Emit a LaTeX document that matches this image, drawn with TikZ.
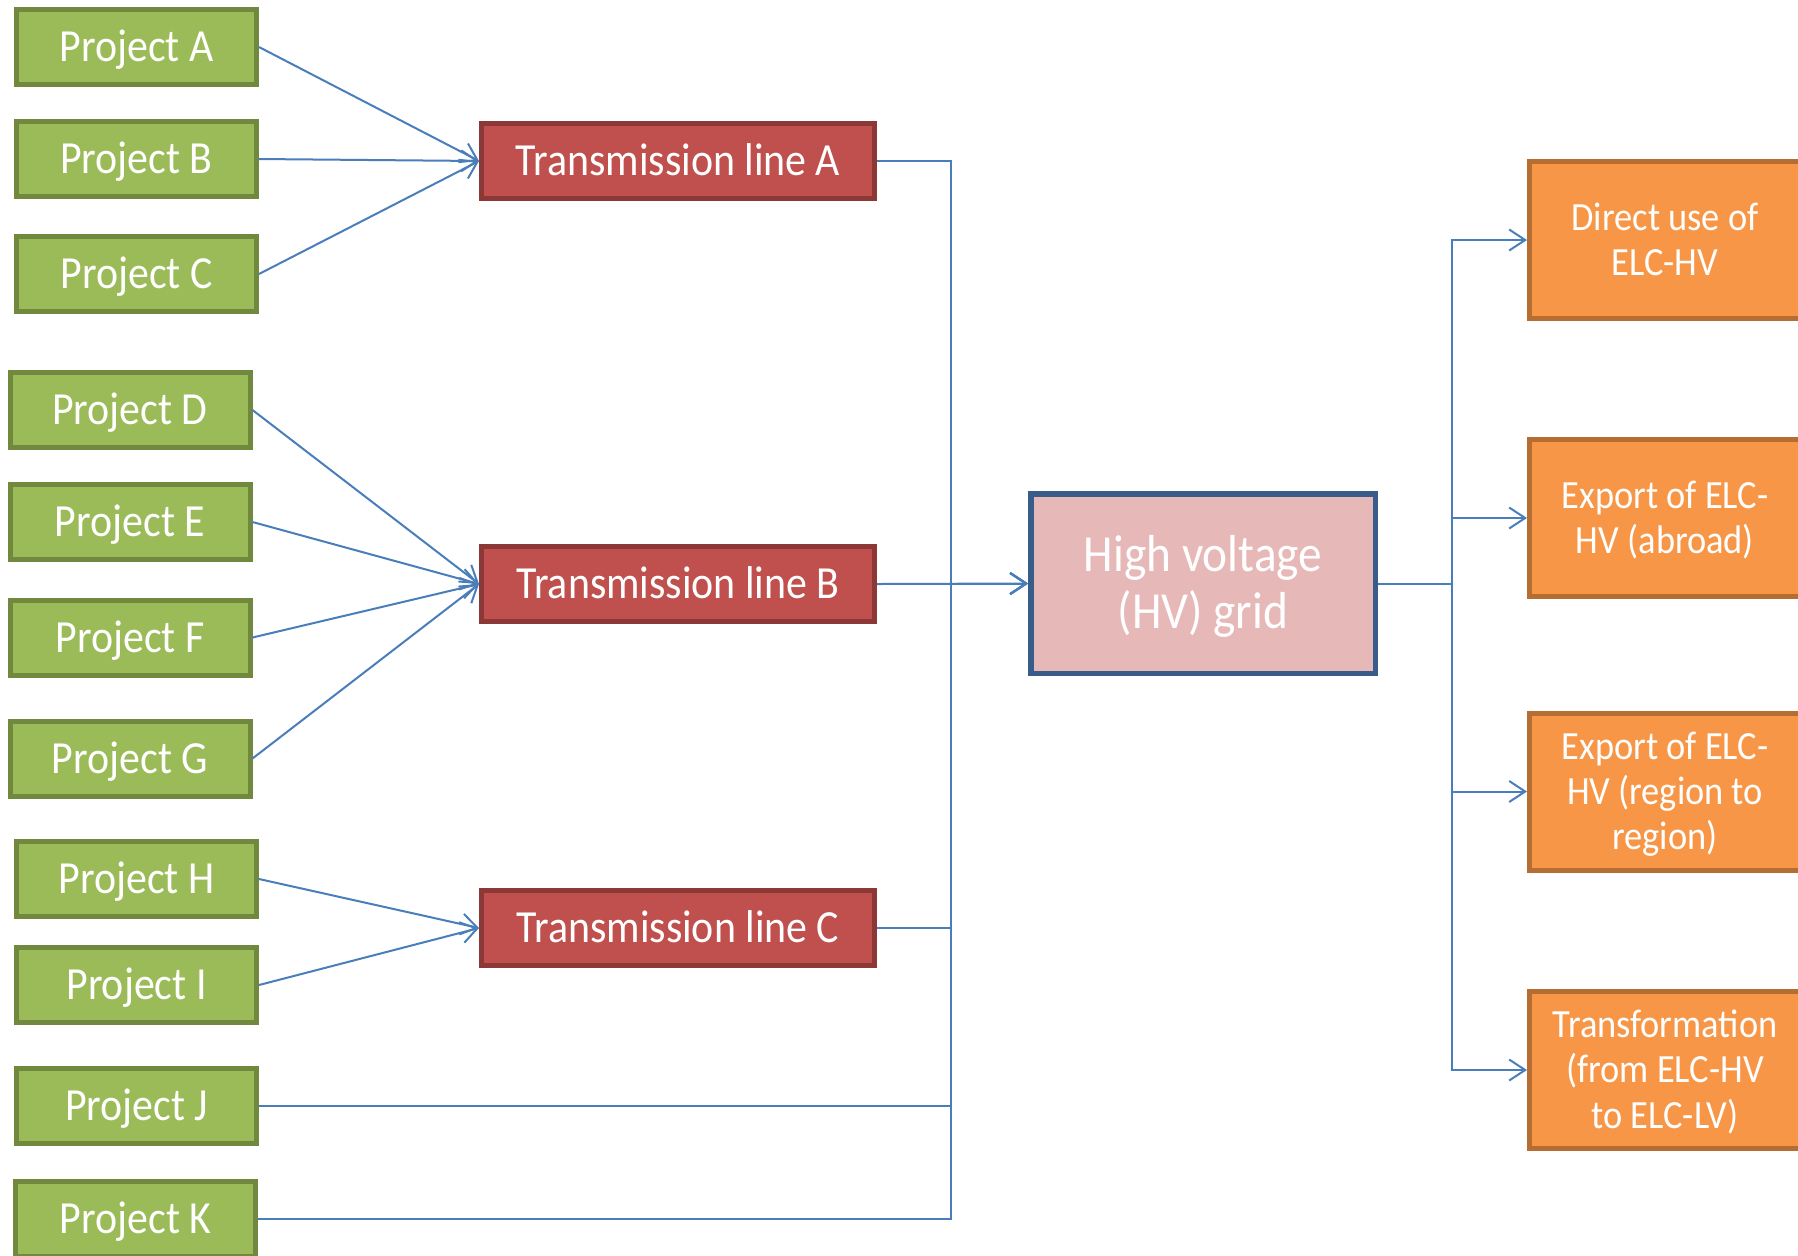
\documentclass[tikz,border=0pt]{standalone}
\usepackage{fontspec}
\setmainfont{Carlito}[FakeStretch=0.91]
\usetikzlibrary{arrows.meta}
\definecolor{gfill}{HTML}{9BBB59}
\definecolor{gdraw}{HTML}{71893F}
\definecolor{rfill}{HTML}{C0504D}
\definecolor{rdraw}{HTML}{8C3836}
\definecolor{pfill}{HTML}{E6B9B8}
\definecolor{pdraw}{HTML}{385D8A}
\definecolor{ofill}{HTML}{F79646}
\definecolor{odraw}{HTML}{B66D31}
\definecolor{cblue}{HTML}{4A7EBB}
\begin{document}
\begin{tikzpicture}[x=0.5pt,y=-0.5pt,
  box/.style={rectangle, line width=2.5pt, inner sep=0pt, text=white, align=center},
  proj/.style={box, fill=gfill, draw=gdraw, minimum width=120pt, minimum height=37.5pt,
    font=\fontsize{23}{27}\selectfont, text height=14.8pt, text depth=0pt},
  tline/.style={box, fill=rfill, draw=rdraw, minimum width=196.5pt, minimum height=37.5pt,
    font=\fontsize{23}{27}\selectfont, text height=14.8pt, text depth=0pt},
  hvbox/.style={box, fill=pfill, draw=pdraw, line width=2.75pt, minimum width=172.25pt, minimum height=89.75pt,
    font=\fontsize{26}{28.5}\selectfont, text height=45.2pt, text depth=0pt},
  outbox/.style={box, fill=ofill, draw=odraw, minimum width=135.5pt, minimum height=78.5pt,
    font=\fontsize{20}{22.7}\selectfont, text height=35.6pt, text depth=0pt},
  conn/.style={draw=cblue, line width=1pt},
  arr/.style={-{Straight Barb[length=8pt,width=10.5pt]}}
]
\useasboundingbox (0,0) rectangle (1798,1255);
\fill[white] (0,0) rectangle (1798,1255);

% projects
\node[proj] (pa) at (136.5,47) {Project A};
\node[proj] (pb) at (136.5,159) {Project B};
\node[proj] (pc) at (136.5,274) {Project C};
\node[proj] (pd) at (130,410) {Project D};
\node[proj] (pe) at (130,522) {Project E};
\node[proj] (pf) at (130,637.5) {Project F};
\node[proj] (pg) at (130,758.5) {Project G};
\node[proj] (ph) at (136.5,879) {Project H};
\node[proj] (pi) at (136.5,985) {Project I};
\node[proj] (pj) at (136.5,1106) {Project J};
\node[proj] (pk) at (135.5,1219) {Project K};

% transmission lines
\node[tline] (tla) at (678,161) {Transmission line A};
\node[tline] (tlb) at (678,584) {Transmission line B};
\node[tline] (tlc) at (678,928) {Transmission line C};

% grid
\node[hvbox] (hv) at (1203,583.5) {High voltage\\(HV) grid};

% outputs
\node[outbox] (o1) at (1665,240) {Direct use of\\ELC-HV};
\node[outbox] (o2) at (1665,518) {Export of ELC-\\HV (abroad)};
\node[outbox, text height=58.3pt] (o3) at (1665,791.5) {Export of ELC-\\HV (region to\\region)};
\node[outbox, text height=58.3pt] (o4) at (1665,1070) {Transformation\\(from ELC-HV\\to ELC-LV)};

\coordinate (bus) at (951,583.5);
\coordinate (rbus) at (1452,583.5);

% project -> transmission line
\foreach \p in {pa,pb,pc} \draw[conn,arr] (\p.east) -- (tla.west);
\foreach \p in {pd,pe,pf,pg} \draw[conn,arr] (\p.east) -- (tlb.west);
\foreach \p in {ph,pi} \draw[conn,arr] (\p.east) -- (tlc.west);

% to grid
\foreach \p in {tla,tlc,pj,pk} \draw[conn,arr] (\p.east) -| (bus) -- (hv.west);
\draw[conn,arr] (tlb.east) -- (hv.west);

% grid -> outputs
\foreach \o in {o1,o2,o3,o4} \draw[conn,arr] (hv.east) -- (rbus) |- (\o.west);
\end{tikzpicture}
\end{document}
